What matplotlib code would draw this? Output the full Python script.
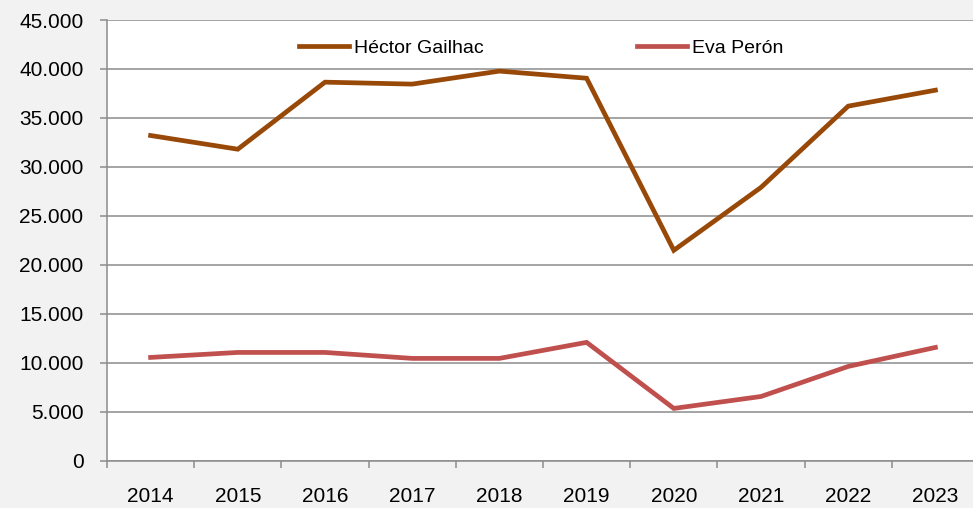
import matplotlib
matplotlib.use("Agg")
import matplotlib.pyplot as plt
from matplotlib.ticker import FixedLocator, FuncFormatter

years = ["2014", "2015", "2016", "2017", "2018", "2019", "2020", "2021", "2022", "2023"]
hector = [33200, 31800, 38650, 38450, 39780, 39050, 21470, 27900, 36200, 37830]
eva = [10530, 11040, 11040, 10430, 10430, 12070, 5320, 6540, 9610, 11550]
series_names = ["Héctor Gailhac", "Eva Perón"]

plt.rcParams['font.family'] = ['Liberation Sans', 'DejaVu Sans']

fig = plt.figure(figsize=(9.73, 5.08), dpi=100)
fig.patch.set_facecolor('#F2F2F2')
W, H = 973, 508
left, right, top, bottom = 107, 979, 20, 460.5
ax = fig.add_axes([left / W, 1 - bottom / H, (right - left) / W, (bottom - top) / H])
ax.set_facecolor('white')

x = list(range(len(years)))
ax.plot(x, hector, color='#984807', lw=3.4, label=series_names[0], solid_joinstyle='miter', zorder=3)
ax.plot(x, eva, color='#C0504D', lw=3.4, label=series_names[1], solid_joinstyle='miter', zorder=3)

ax.set_xlim(-0.5, len(years) - 0.5)
ax.set_ylim(0, 45000)
ax.set_yticks(range(0, 45001, 5000))
ax.yaxis.set_major_formatter(FuncFormatter(lambda v, p: f"{int(v):,}".replace(",", ".")))
ax.grid(axis='y', color='#8C8C8C', lw=1.1, zorder=1)

ax.set_xticks(x)
ax.set_xticklabels(years)
ax.xaxis.set_minor_locator(FixedLocator([i - 0.5 for i in range(len(years) + 1)]))
ax.tick_params(axis='x', which='major', length=0, pad=19, labelsize=15)
ax.tick_params(axis='x', which='minor', length=5, width=1.1, color='#8C8C8C', direction='out')
ax.tick_params(axis='y', length=5, width=1.1, color='#8C8C8C', direction='out', labelsize=15, pad=12)

for s in ['top', 'right']:
    ax.spines[s].set_visible(False)
for s in ['left', 'bottom']:
    ax.spines[s].set_color('#8C8C8C')
    ax.spines[s].set_linewidth(1.1)

leg = ax.legend(loc='center', bbox_to_anchor=(0.498, 0.936), ncol=2, frameon=False,
                fontsize=14, handlelength=2.57, handletextpad=0.25, columnspacing=7.9)

fig.savefig('out.png', dpi=100, facecolor=fig.get_facecolor())
